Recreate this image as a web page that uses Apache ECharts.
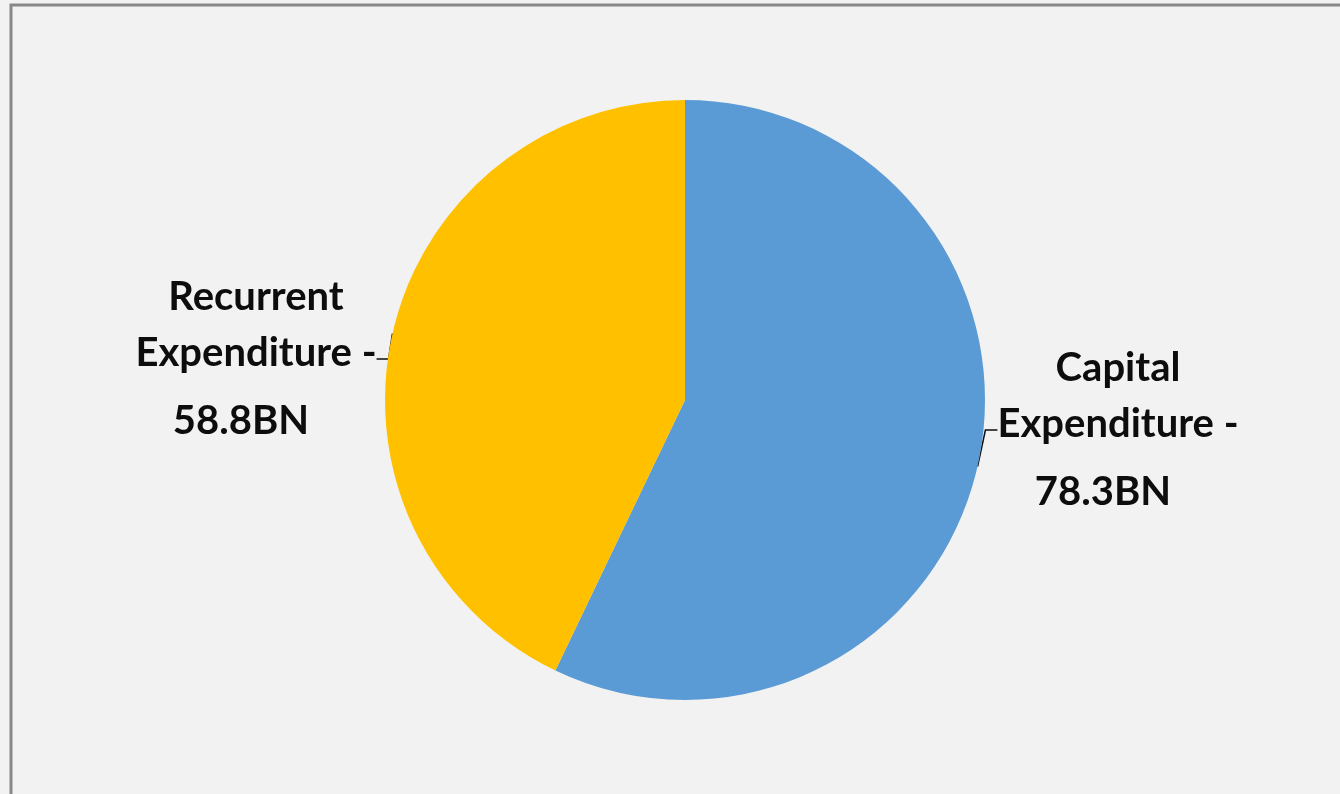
<!doctype html>
<html>
<head>
<meta charset="UTF-8">
<title>Expenditure</title>
<style>
	html, body { margin: 0; padding: 0; background: #f2f2f2; }
	#main { width: 1340px; height: 794px; }
</style>
</head>
<body>
<div id="main"></div>
<script src="https://cdn.jsdelivr.net/npm/echarts@6/dist/echarts.min.js"></script>
<script>
	var categories = ['Capital Expenditure', 'Recurrent Expenditure'];
	var values = [78.3, 58.8];
	var valueLabels = ['78.3BN', '58.8BN'];
	var colors = ['#5b9bd5', '#ffc000'];

	var myChart = echarts.init(document.getElementById('main'));

	var pieData = [];
	for (var i = 0; i < categories.length; i++) {
		pieData.push({ name: categories[i], value: values[i], itemStyle: { color: colors[i] } });
	}

	// label anchor spots, as in the picture
	var labelSpots = [
		{ x: 1118, y: 436 },
		{ x: 256, y: 365 }
	];

	var option = {
		backgroundColor: '#f2f2f2',
		animation: false,
		graphic: [{
			type: 'rect',
			shape: { x: 11, y: 5, width: 1400, height: 900 },
			style: { fill: 'none', stroke: '#888888', lineWidth: 3 },
			silent: true
		}],
		series: [{
			type: 'pie',
			center: [685, 400],
			radius: 300,
			startAngle: 90,
			clockwise: true,
			data: pieData,
			label: {
				show: true,
				position: 'outside',
				color: '#0d0d0d',
				fontFamily: 'Lato',
				fontWeight: 'bold',
				fontSize: 40,
				formatter: function (p) {
					var parts = p.name.split(' ');
					return '{a|' + parts[0] + '}\n{a|' + parts[1] + ' -}\n{b|' + valueLabels[p.dataIndex] + '}';
				},
				rich: {
					a: { fontFamily: 'Lato', fontWeight: 'bold', fontSize: 40, color: '#0d0d0d', lineHeight: 56 },
					// value line sits a little left of the name lines
					b: { fontFamily: 'Lato', fontWeight: 'bold', fontSize: 40, color: '#0d0d0d', lineHeight: 80, padding: [0, 30, 0, 0] }
				}
			},
			labelLine: {
				show: true,
				length: 8,
				length2: 12,
				lineStyle: { color: '#0d0d0d', width: 1.5 }
			},
			labelLayout: function (params) {
				var s = labelSpots[params.dataIndex];
				return { x: s.x, y: s.y, align: 'center', verticalAlign: 'middle' };
			}
		}]
	};
	myChart.setOption(option);
</script>
</body>
</html>
